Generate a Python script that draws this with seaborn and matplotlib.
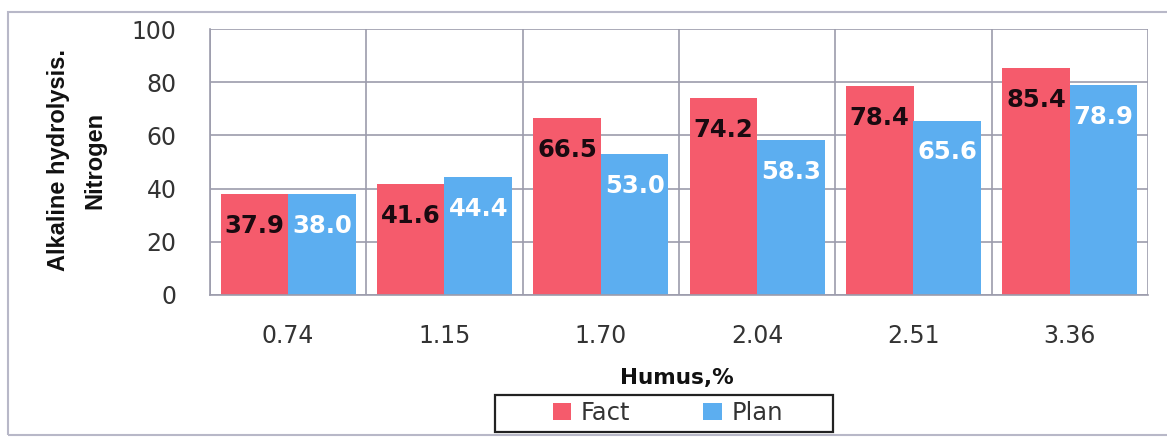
import numpy as np
import pandas as pd
import matplotlib
matplotlib.use("Agg")
import matplotlib.pyplot as plt
import seaborn as sns
from matplotlib import font_manager
from matplotlib.patches import Rectangle, Patch

categories = ["0.74", "1.15", "1.70", "2.04", "2.51", "3.36"]
fact = [37.9, 41.6, 66.5, 74.2, 78.4, 85.4]
plan = [38.0, 44.4, 53.0, 58.3, 65.6, 78.9]
series = ["Fact", "Plan"]
yticks = [0, 20, 40, 60, 80, 100]

df = pd.DataFrame({
    "Humus": categories * 2,
    "value": fact + plan,
    "series": [series[0]] * len(fact) + [series[1]] * len(plan),
})

RED = "#F55B6C"
BLUE = "#5CAEF0"
GRID = "#9C9CAC"

sns.set_theme(style="white")
plt.rcParams["font.family"] = ["DejaVu Sans"]

avail = {f.name for f in font_manager.fontManager.ttflist}
narrow = "Liberation Sans Narrow" if "Liberation Sans Narrow" in avail else "Liberation Sans"

fig = plt.figure(figsize=(11.67, 4.4), dpi=100)
ax = fig.add_axes([210 / 1167, 1 - 295 / 440, (1148 - 210) / 1167, (295 - 29) / 440])

sns.barplot(data=df, x="Humus", y="value", hue="series", order=categories,
            hue_order=series, palette=[RED, BLUE], width=0.865, saturation=1,
            ax=ax, legend=False, zorder=2, linewidth=0, edgecolor="none")

ax.set_ylim(0, 100)
ax.set_xlim(-0.5, len(categories) - 0.5)
ax.set_yticks(yticks)
ax.set_yticklabels([str(v) for v in yticks], fontsize=17, color="#333333")
ax.set_xticks(range(len(categories)))
ax.set_xticklabels(categories, fontsize=17, color="#333333")
ax.set_xticks(np.arange(-0.5, len(categories), 1), minor=True)
ax.tick_params(axis="x", which="major", length=0, pad=21)
ax.tick_params(axis="x", which="minor", length=9, width=1.2, color=GRID, direction="out")
ax.tick_params(axis="y", which="major", length=10, width=1.2, color=GRID, direction="out", pad=14)
ax.yaxis.grid(True, color=GRID, linewidth=1.2, zorder=0)
ax.xaxis.grid(True, which="minor", color=GRID, linewidth=1.2, zorder=0)
ax.xaxis.grid(False, which="major")
ax.set_axisbelow(True)
for s in ["top", "right"]:
    ax.spines[s].set_visible(False)
for s in ["left", "bottom"]:
    ax.spines[s].set_color(GRID)
    ax.spines[s].set_linewidth(1.2)
ax.set_xlabel("")
ax.set_ylabel("")

for container, col in zip(ax.containers, ["#1A0A10", "white"]):
    labels = [f"{v:.1f}" for v in container.datavalues]
    for bar, lab in zip(container, labels):
        ax.annotate(lab, (bar.get_x() + bar.get_width() / 2, bar.get_height()),
                    xytext=(0, -23), textcoords="offset points", ha="center",
                    va="center", fontsize=17.5, fontweight="bold", color=col, zorder=5)

fig.text(77 / 1167, 1 - 160 / 440, "Alkaline hydrolysis.\nNitrogen", rotation=90,
         ha="center", va="center", multialignment="center", fontsize=17,
         fontweight="bold", family=[narrow, "DejaVu Sans"], linespacing=1.75, color="#111111")
fig.text(677 / 1167, 1 - 378 / 440, "Humus,%", ha="center", va="center",
         fontsize=15.5, fontweight="bold", color="#111111")

# legend box
fig.patches.append(Rectangle((495 / 1167, 1 - 432 / 440), (833 - 495) / 1167, (432 - 395) / 440,
                             transform=fig.transFigure, fill=False, edgecolor="#222222",
                             linewidth=1.6))
handles = [Patch(facecolor=RED, edgecolor="none"), Patch(facecolor=BLUE, edgecolor="none")]
fig.legend(handles, series, loc="center", bbox_to_anchor=(668 / 1167, 1 - 413 / 440),
           ncol=2, frameon=False, fontsize=17.5, handlelength=0.75, handleheight=0.75,
           handletextpad=0.4, columnspacing=3.0, labelcolor="#333333")

# outer frame
fig.patches.append(Rectangle((8 / 1167, 1 - 435 / 440), 1.0, (435 - 12) / 440,
                             transform=fig.transFigure, fill=False, edgecolor="#B8B8C8",
                             linewidth=1.5))

fig.savefig("out.png", dpi=100)
